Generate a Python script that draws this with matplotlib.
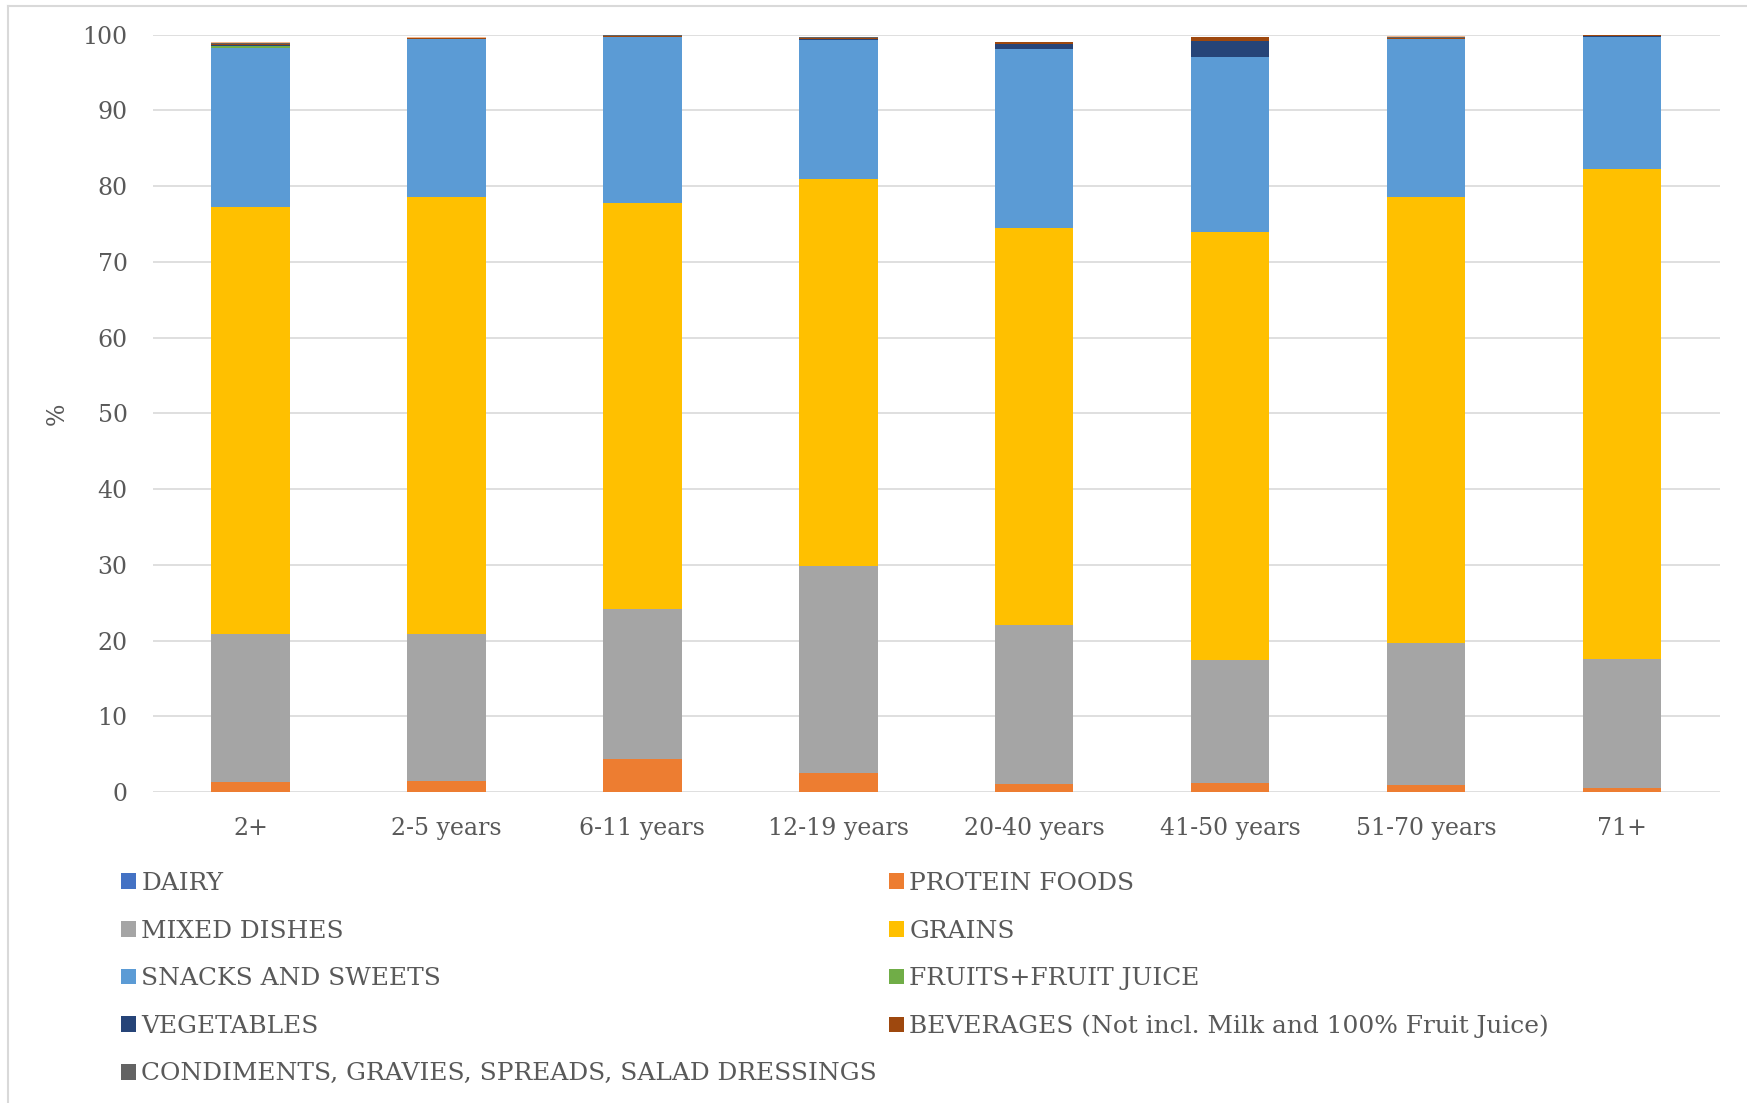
import matplotlib
matplotlib.use("Agg")
import matplotlib.pyplot as plt
from matplotlib.patches import Patch
from matplotlib.lines import Line2D
import numpy as np

categories = ["2+", "2-5 years", "6-11 years", "12-19 years", "20-40 years",
              "41-50 years", "51-70 years", "71+"]

dairy      = [0.0, 0.0, 0.0, 0.0, 0.0, 0.0, 0.0, 0.0]
protein    = [1.3, 1.5, 4.4, 2.5, 1.0, 1.2, 0.9, 0.5]
mixed      = [19.6, 19.3, 19.8, 27.4, 21.1, 16.2, 18.8, 17.0]
grains     = [56.3, 57.8, 53.6, 51.0, 52.4, 56.5, 58.9, 64.7]
snacks     = [21.0, 20.8, 21.9, 18.45, 23.6, 23.2, 20.8, 17.5]
fruits     = [0.25, 0.0, 0.0, 0.0, 0.0, 0.0, 0.0, 0.0]
vegetables = [0.25, 0.05, 0.05, 0.1, 0.7, 2.1, 0.05, 0.15]
beverages  = [0.1, 0.05, 0.1, 0.1, 0.25, 0.5, 0.1, 0.1]
condiments = [0.05, 0.1, 0.12, 0.1, 0.0, 0.0, 0.15, 0.02]
other      = [0.15, 0.12, 0.03, 0.1, 0.0, 0.0, 0.12, 0.0]

series_labels = ["DAIRY", "PROTEIN FOODS", "MIXED DISHES", "GRAINS",
                 "SNACKS AND SWEETS", "FRUITS+FRUIT JUICE", "VEGETABLES",
                 "BEVERAGES (Not incl. Milk and 100% Fruit Juice)",
                 "CONDIMENTS, GRAVIES, SPREADS, SALAD DRESSINGS"]
series_values = [dairy, protein, mixed, grains, snacks, fruits, vegetables,
                 beverages, condiments]
series_colors = ["#4472C4", "#ED7D31", "#A5A5A5", "#FFC000", "#5B9BD5",
                 "#70AD47", "#264478", "#9E480E", "#636363"]
other_color = "#F1B58A"

yticks = [0, 10, 20, 30, 40, 50, 60, 70, 80, 90, 100]

W, H = 1747, 1103
fig = plt.figure(figsize=(W / 100, H / 100), dpi=100)
plt.rcParams['font.family'] = ['DejaVu Serif']
txt_color = "#595959"
fs = 17
lfs = 17.9

ax = fig.add_axes([152.6 / W, 1 - 792 / H, (1720 - 152.6) / W, (792 - 34.7) / H])
x = np.arange(len(categories))
bottom = np.zeros(len(categories))
for vals, col, lab in zip(series_values, series_colors, series_labels):
    v = np.array(vals)
    ax.bar(x, v, 0.4, bottom=bottom, color=col, label=lab, zorder=3, linewidth=0)
    bottom += v
ax.bar(x, np.array(other), 0.4, bottom=bottom, color=other_color, zorder=3, linewidth=0)

ax.set_xlim(-0.5, len(categories) - 0.5)
ax.set_ylim(0, 100)
ax.set_yticks(yticks)
ax.set_yticklabels([str(t) for t in yticks])
ax.set_xticks(x)
ax.set_xticklabels(categories)
ax.tick_params(axis='both', length=0, labelsize=fs, labelcolor=txt_color)
ax.tick_params(axis='y', pad=18)
ax.tick_params(axis='x', pad=18)
ax.yaxis.grid(True, color="#D9D9D9", linewidth=1.2, zorder=0)
ax.set_axisbelow(True)
for s in ax.spines.values():
    s.set_visible(False)
ax.set_ylabel("%", fontsize=fs, color=txt_color, labelpad=10)

# chart area border (top and left visible)
fig.add_artist(Line2D([7.5 / W, 1.0], [1 - 5.5 / H, 1 - 5.5 / H], color="#D9D9D9",
                      linewidth=1.5, transform=fig.transFigure))
fig.add_artist(Line2D([7.5 / W, 7.5 / W], [0.0, 1 - 5.5 / H], color="#D9D9D9",
                      linewidth=1.5, transform=fig.transFigure))

handles = [Patch(facecolor=c, edgecolor='none') for c in series_colors]
col1 = [0, 2, 4, 6, 8]
col2 = [1, 3, 5, 7]
leg_kw = dict(frameon=False, fontsize=lfs, handlelength=0.6, handleheight=0.6,
              handletextpad=0.22, labelspacing=0.99, borderpad=0, borderaxespad=0,
              labelcolor=txt_color, loc='upper left')
leg1 = fig.legend([handles[i] for i in col1], [series_labels[i] for i in col1],
                  bbox_to_anchor=(121 / W, 1 - 872 / H), **leg_kw)
leg2 = fig.legend([handles[i] for i in col2], [series_labels[i] for i in col2],
                  bbox_to_anchor=(889 / W, 1 - 872 / H), **leg_kw)

fig.savefig("out.png", dpi=100)
